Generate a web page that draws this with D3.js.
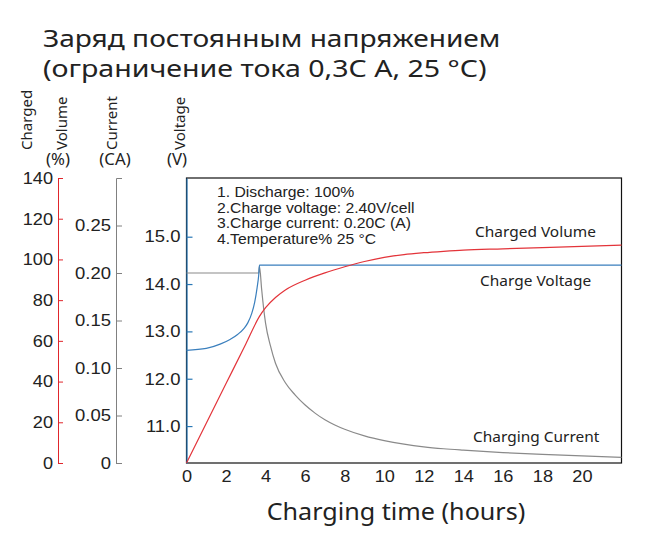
<!DOCTYPE html>
<html>
<head>
<meta charset="utf-8">
<script src="https://cdn.jsdelivr.net/npm/d3@7"></script>
<style>
  body { margin: 0; background: #fff; }
  svg { display: block; font-family: "Noto Sans", sans-serif; }
  .axis text { font-size: 16.5px; fill: #222; }
</style>
</head>
<body>
<svg width="652" height="552"></svg>
<script>
// данные
const hours = [0, 2, 4, 6, 8, 10, 12, 14, 16, 18, 20];
const pctTicks = [0, 20, 40, 60, 80, 100, 120, 140];
const curTicks = [0, 0.05, 0.10, 0.15, 0.20, 0.25];
const voltTicks = [11, 12, 13, 14, 15];

// заряженная ёмкость, %
const volT   = [0, 1, 2, 3, 3.69, 4, 4.5, 5, 6, 7, 8, 9, 10, 11, 12, 13, 14, 16, 18, 20, 22];
const volPct = [0, 19.5, 39, 58.5, 72, 76.3, 81.3, 85, 89.8, 93.4, 96.4, 99, 101, 102.4, 103.3, 104, 104.6, 105.2, 105.8, 106.4, 107];

// напряжение, В
const voltT = [0, 1, 1.7, 2.2, 2.6, 2.9, 3.1, 3.3, 3.45, 3.57, 3.65, 3.69, 22];
const voltV = [12.6, 12.64, 12.73, 12.83, 12.94, 13.06, 13.18, 13.38, 13.62, 13.92, 14.18, 14.4, 14.4];

// ток заряда, CA
const curT = [0, 3.66, 3.69, 3.8, 3.9, 4, 4.25, 4.5, 5, 5.5, 6, 6.5, 7, 7.5, 8, 9, 10, 11, 12, 13, 14, 16, 18, 20, 22];
const curA = [0.2, 0.2, 0.207, 0.183, 0.163, 0.147, 0.123, 0.105, 0.0845, 0.0715, 0.061, 0.0525, 0.0455, 0.04, 0.0355,
              0.0285, 0.0235, 0.0198, 0.017, 0.015, 0.0135, 0.011, 0.009, 0.0075, 0.006];

const notes = ["1. Discharge: 100%", "2.Charge voltage: 2.40V/cell",
               "3.Charge current: 0.20C (A)", "4.Temperature% 25 °C"];

const svg = d3.select('svg');

const x = d3.scaleLinear([0, 22], [186.5, 621.5]);
const yPct = d3.scaleLinear([0, 140], [463, 178]);
const yCur = d3.scaleLinear([0, 0.30], [463, 178]);
const yV = d3.scaleLinear([10.22, 16.24], [463, 178]);

// текст, растянутый по горизонтали (шрифт оригинала шире)
function label(tx, ty, str, size, sx, anchor) {
  return svg.append('text')
    .attr('transform', `translate(${tx},${ty}) scale(${sx},1)`)
    .attr('text-anchor', anchor || 'start')
    .attr('font-size', size).attr('fill', '#222').text(str);
}
function widen(g, sx) {
  g.selectAll('text').each(function() {
    const t = d3.select(this);
    const xv = +t.attr('x') || 0;
    t.attr('x', 0).attr('transform', `translate(${xv},0) scale(${sx},1)`);
  });
}

// заголовок
label(43, 47, 'Заряд постоянным напряжением', 24, 1.17);
label(43, 77, '(ограничение тока 0,3С А, 25 °С)', 24, 1.19);

// подписи осей
const heads = [['Charged', 32], ['Volume', 67], ['Current', 117], ['Voltage', 185]];
heads.forEach(h => {
  svg.append('text').attr('transform', `translate(${h[1]},150) rotate(-90)`)
    .attr('font-size', 15).attr('fill', '#222').text(h[0]);
});
[['(%)', 58], ['(CA)', 115], ['(V)', 177]].forEach(h => {
  label(h[1], 165, h[0], 15.5, 1.08, 'middle');
});

// рамка
svg.append('rect').attr('x', x(0)).attr('y', 178).attr('width', x(22) - x(0)).attr('height', 285)
  .attr('fill', 'none').attr('stroke', '#111').attr('stroke-width', 1.2);

// оси
const gP = svg.append('g').attr('class', 'axis').attr('transform', 'translate(58,0)')
  .call(d3.axisLeft(yPct).tickValues(pctTicks).tickSizeInner(-5).tickSizeOuter(0).tickPadding(5));
gP.selectAll('path,line').attr('stroke', '#e0262c');
widen(gP, 1.1);

const gC = svg.append('g').attr('class', 'axis').attr('transform', 'translate(116,0)')
  .call(d3.axisLeft(yCur).tickValues(curTicks).tickSizeInner(-6).tickSizeOuter(-6).tickPadding(5)
    .tickFormat(d => d === 0 ? '0' : d3.format('.2f')(d)));
gC.selectAll('path,line').attr('stroke', '#808080');
widen(gC, 1.12);

const gV = svg.append('g').attr('class', 'axis').attr('transform', `translate(${x(0)},0)`)
  .call(d3.axisLeft(yV).tickValues(voltTicks).tickSizeInner(-6).tickSizeOuter(0).tickPadding(6)
    .tickFormat(d3.format('.1f')));
gV.selectAll('path,line').attr('stroke', '#2a78b6').attr('stroke-width', 1.2);
widen(gV, 1.12);

const gX = svg.append('g').attr('class', 'axis').attr('transform', 'translate(0,463)')
  .call(d3.axisBottom(x).tickValues(hours).tickSize(0).tickPadding(7));
gX.select('.domain').remove();
widen(gX, 1.1);

label(396, 520, 'Charging time (hours)', 23.5, 1.07, 'middle');

// линии
const line = (ys) => d3.line().x(d => x(d[0])).y(d => ys(d[1])).curve(d3.curveMonotoneX);

svg.append('path').datum(d3.zip(curT, curA)).attr('d', line(yCur))
  .attr('fill', 'none').attr('stroke', '#8a8a8a').attr('stroke-width', 1.2);
svg.append('path').datum(d3.zip(voltT, voltV)).attr('d', line(yV))
  .attr('fill', 'none').attr('stroke', '#3a7fbd').attr('stroke-width', 1.2);
svg.append('path').datum(d3.zip(volT, volPct)).attr('d', line(yPct))
  .attr('fill', 'none').attr('stroke', '#e3343a').attr('stroke-width', 1.2);

// примечания (шрифт с плотным интерлиньяжем, чтобы строки не налезали)
svg.append('g').selectAll('text').data(notes).join('text')
  .attr('transform', (d, i) => `translate(217,${197 + i * 15.5}) scale(1.14,1)`)
  .attr('font-family', '"Liberation Sans", sans-serif')
  .attr('font-size', 13.8).attr('fill', '#222').text(d => d);

// подписи кривых
label(475, 237, 'Charged Volume', 15, 1.03);
label(480, 286, 'Charge Voltage', 15, 1.03);
label(473, 442, 'Charging Current', 15, 1.03);
</script>
</body>
</html>
